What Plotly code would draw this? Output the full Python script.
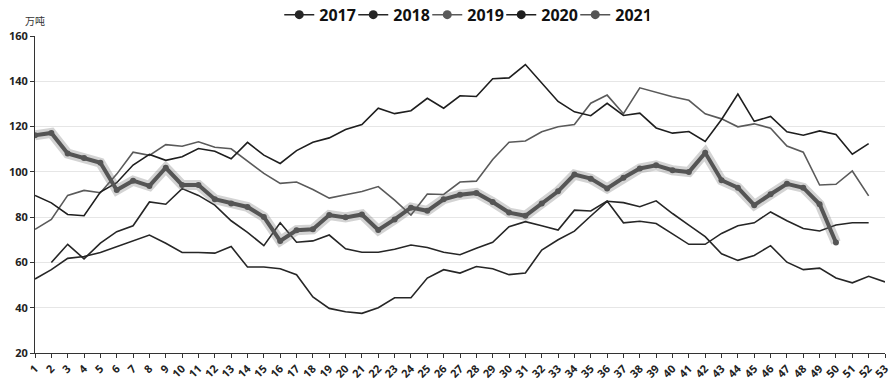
import plotly.graph_objects as go

weeks = list(range(1, 54))
week_labels = [str(w) for w in weeks]

y2017 = [52.7, 56.8, 61.8, 62.6, 64.4, 67.0, 69.5, 72.1, 68.5, 64.4,
         64.4, 64.1, 67.0, 58.0, 58.0, 57.2, 54.6, 44.8, 39.7, 38.2,
         37.5, 40.0, 44.4, 44.4, 53.1, 56.8, 55.3, 58.2, 57.2, 54.6,
         55.3, 65.5, 70.0, 73.8, 80.5, 87.0, 86.4, 84.6, 87.2, 81.6,
         76.5, 71.4, 63.8, 60.9, 63.1, 67.4, 60.1, 56.8, 57.5, 53.1,
         51.0, 53.9, 51.4]
y2018 = [None, 60.0, 68.0, 61.6, 68.5, 73.6, 76.2, 86.7, 85.7, 92.6,
         89.6, 85.3, 78.4, 73.3, 67.4, 77.5, 68.9, 69.5, 72.1, 66.0,
         64.5, 64.5, 65.8, 67.7, 66.6, 64.5, 63.4, 66.3, 68.9, 75.8,
         78.0, 76.2, 74.3, 83.1, 82.7, 87.1, 77.5, 78.2, 77.2, 72.6,
         68.0, 68.0, 72.8, 76.2, 77.5, 82.3, 78.4, 75.0, 73.9, 76.5,
         77.5, 77.5]
y2019 = [74.6, 79.0, 89.6, 91.8, 90.8, 99.0, 108.7, 107.3, 112.0, 111.3,
         113.3, 110.9, 110.2, 104.8, 99.3, 94.9, 95.5, 92.2, 88.4, 89.9,
         91.3, 93.5, 87.5, 80.9, 90.2, 90.0, 95.5, 95.9, 105.5, 113.1,
         113.6, 117.7, 119.9, 120.9, 130.3, 133.9, 125.7, 137.1, 135.1, 133.2,
         131.6, 125.6, 123.4, 119.9, 121.2, 119.3, 111.4, 108.7, 94.2, 94.5,
         100.4, 89.4]
y2020 = [89.6, 86.3, 81.2, 80.6, 91.1, 95.2, 103.0, 107.7, 105.1, 106.7,
         110.3, 109.1, 105.8, 113.0, 107.4, 103.7, 109.4, 113.1, 115.0, 118.7,
         120.9, 128.1, 125.7, 127.0, 132.5, 128.1, 133.6, 133.3, 141.1, 141.5,
         147.4, 139.2, 131.1, 126.5, 124.8, 130.3, 124.9, 125.9, 119.4, 117.1,
         117.8, 113.4, 123.1, 134.4, 122.3, 124.5, 117.7, 116.2, 118.1, 116.5,
         107.8, 112.5]
y2021 = [116.2, 117.2, 108.1, 106.1, 104.0, 92.0, 96.1, 93.8, 101.8, 94.2,
         94.2, 87.9, 86.0, 84.5, 80.1, 69.5, 74.2, 74.6, 80.9, 79.9,
         81.2, 74.3, 79.0, 84.2, 82.8, 87.9, 89.9, 90.7, 86.7, 82.0,
         80.6, 86.0, 91.4, 98.8, 97.0, 92.7, 97.4, 101.5, 102.9, 100.7,
         99.9, 108.4, 96.3, 93.0, 85.3, 90.1, 94.7, 93.0, 85.7, 68.8]

series = [
    ("2017", y2017, "#262626", 1.6),
    ("2018", y2018, "#262626", 1.6),
    ("2019", y2019, "#5a5a5a", 1.6),
    ("2020", y2020, "#1e1e1e", 1.6),
]

FONT = "Open Sans"
fig = go.Figure()

for name, ys, color, width in series:
    fig.add_trace(go.Scatter(
        x=weeks[:len(ys)], y=ys, mode="lines", name=name,
        line=dict(color=color, width=width), showlegend=False,
        hoverinfo="x+y+name"))

# 2021 glow underlay
fig.add_trace(go.Scatter(
    x=weeks[:len(y2021)], y=y2021, mode="lines", showlegend=False,
    line=dict(color="rgba(110,110,110,0.30)", width=10), hoverinfo="skip"))
fig.add_trace(go.Scatter(
    x=weeks[:len(y2021)], y=y2021, mode="lines+markers", name="2021",
    line=dict(color="#555555", width=4),
    marker=dict(color="#555555", size=6), showlegend=False))

# legend entries
for name, color in [("2017", "#262626"), ("2018", "#262626"), ("2019", "#5a5a5a"),
                    ("2020", "#1e1e1e"), ("2021", "#555555")]:
    fig.add_trace(go.Scatter(
        x=[None], y=[None], mode="lines+markers", name=name,
        line=dict(color=color, width=1.5), marker=dict(color=color, size=9)))

fig.update_layout(
    width=895, height=380,
    margin=dict(l=35, r=10, t=36, b=27, autoexpand=False),
    paper_bgcolor="white", plot_bgcolor="white",
    font=dict(family=FONT, color="#222222"),
    legend=dict(orientation="h", x=0.505, xanchor="center", y=1.067, yanchor="middle",
                font=dict(size=16, weight="bold", color="#111111"),
                itemwidth=30, entrywidth=29, bgcolor="rgba(0,0,0,0)"),
    annotations=[dict(text="万吨", x=0, xref="paper", xanchor="center",
                      y=1.05, yref="paper", yanchor="middle", showarrow=False,
                      font=dict(family="Noto Sans CJK SC", size=10, color="#333333"))],
)

fig.update_xaxes(
    range=[1, 53], tickmode="array", tickvals=weeks, ticktext=week_labels,
    tickangle=-45, tickfont=dict(size=11, weight="bold", color="#222222"),
    showgrid=False, zeroline=False, showline=True, linecolor="#333333", linewidth=1,
    ticks="outside", ticklen=4, tickcolor="#333333", automargin=False)
fig.update_yaxes(
    range=[20, 160], dtick=20, tickfont=dict(size=11, weight="bold", color="#222222"),
    showgrid=True, gridcolor="#e6e6e6", gridwidth=1, zeroline=False,
    showline=True, linecolor="#333333", linewidth=1,
    ticks="outside", ticklen=4, tickcolor="#333333", automargin=False)

fig.write_html("out.html", config={"displayModeBar": False},
               post_script="document.body.style.margin='0';document.body.style.overflow='hidden';")
